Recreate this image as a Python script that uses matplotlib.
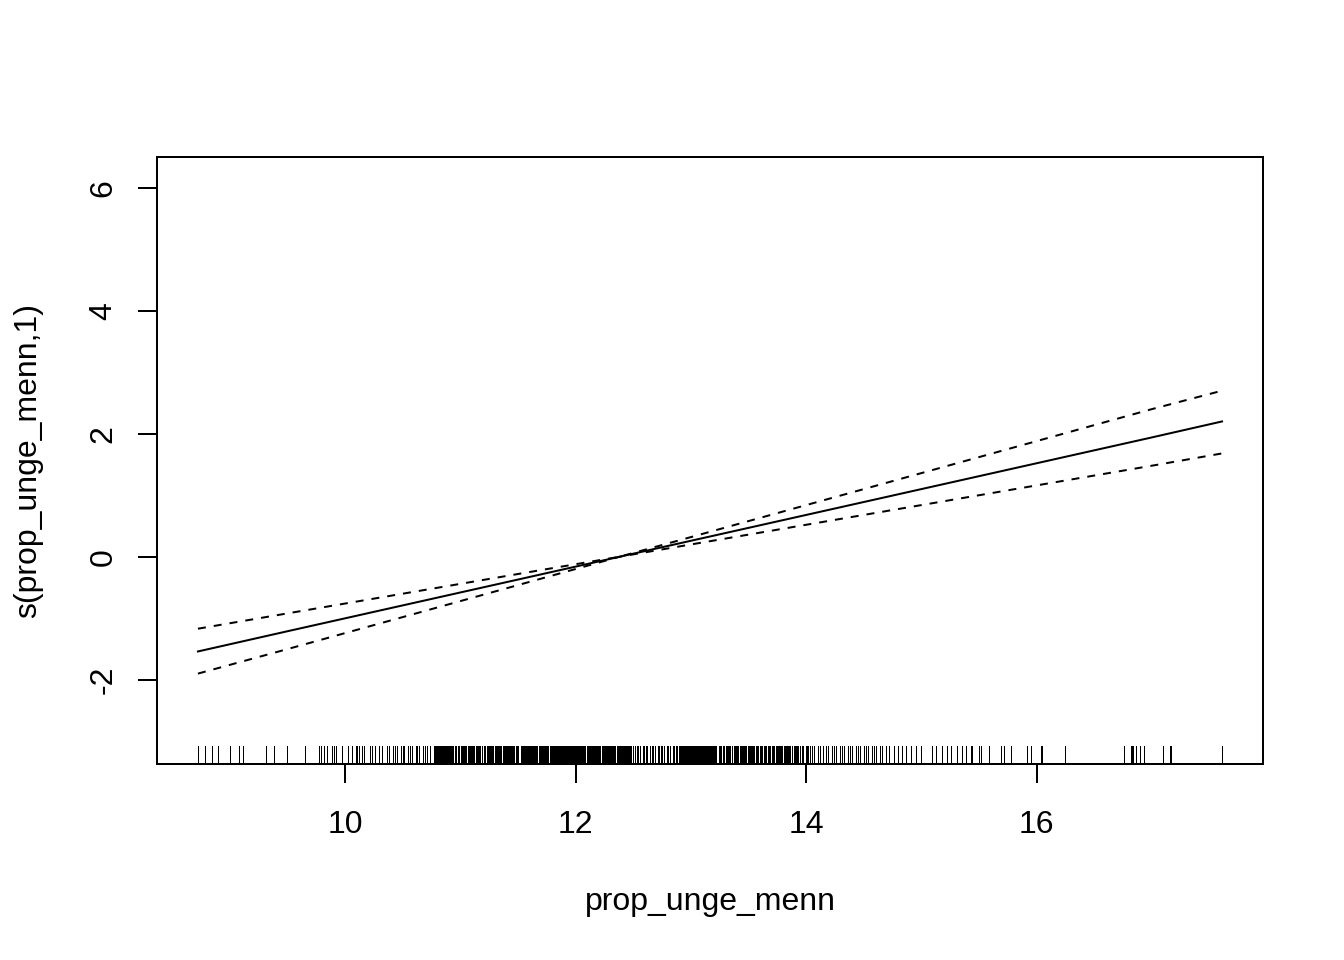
import matplotlib
matplotlib.use("Agg")
import matplotlib.pyplot as plt

plt.rcParams['font.family'] = ['Liberation Sans', 'DejaVu Sans']
plt.rcParams['axes.unicode_minus'] = False

# smooth term s(prop_unge_menn,1)
x_grid = [8.72, 9.5, 10.5, 11.5, 12.38, 13.0, 14.0, 15.0, 16.0, 17.0, 17.61]
fit = [-1.54, -1.21, -0.79, -0.37, 0.0, 0.26, 0.68, 1.10, 1.52, 1.94, 2.20]
upper = [-1.17, -0.92, -0.60, -0.28, 0.0, 0.32, 0.84, 1.36, 1.88, 2.40, 2.70]
lower = [-1.90, -1.50, -0.98, -0.46, 0.0, 0.20, 0.52, 0.84, 1.16, 1.48, 1.68]

# observed values of prop_unge_menn (rug)
rug_text = """
8.72 8.78 8.84 8.89 9.00 9.08 9.11 9.31 9.38 9.49 9.65 9.77 9.79 9.81 9.84
9.88 9.90 9.92 9.97 10.02 10.06 10.09 10.10 10.12 10.14 10.16 10.21 10.23
10.26 10.29 10.32
10.36 10.38 10.41 10.43 10.45 10.48 10.50 10.51 10.54 10.56 10.58 10.61 10.62
10.64 10.67 10.69 10.71 10.73
10.77 10.78 10.79 10.80 10.81 10.82 10.83 10.84 10.85 10.86 10.87 10.88 10.89
10.90 10.91 10.92 10.93
10.775 10.785 10.795 10.805 10.815 10.825 10.835 10.845 10.855 10.865 10.875
10.885 10.895 10.905 10.915 10.925
10.95 10.96 10.98 10.99 11.00 11.02 11.03 11.05 11.06 11.07 11.09 11.10 11.12
11.13 11.14 11.16 11.17 11.19 11.20 11.21 11.23 11.24 11.26 11.27 11.28 11.30
11.31 11.33 11.34 11.35 11.37 11.38 11.40
10.955 10.975 10.985 11.005 11.015 11.035 11.045 11.065 11.085 11.105 11.115
11.135 11.155 11.165 11.185 11.215 11.225 11.245 11.255 11.275 11.295 11.315
11.325 11.345 11.365 11.385 11.395
11.41 11.42 11.43 11.44 11.45 11.46 11.48 11.49 11.50 11.52 11.53 11.54 11.55
11.56 11.57 11.58 11.59 11.60 11.61 11.62 11.63 11.64 11.65 11.66 11.68 11.69
11.70 11.71 11.72 11.73 11.74 11.75 11.76 11.78 11.79 11.80 11.81 11.82 11.83
11.84 11.85 11.86 11.87 11.88 11.89 11.90 11.91 11.92 11.93 11.94 11.95 11.96
11.97 11.98 11.99 12.00 12.01 12.02 12.03 12.04 12.05 12.06 12.07 12.08 12.10
12.11 12.12 12.13 12.14 12.15 12.16 12.17 12.18 12.19 12.20 12.21 12.23 12.24
12.25 12.26 12.27 12.28 12.29 12.30 12.31 12.32 12.33 12.34 12.36 12.37 12.38
12.39 12.40 12.41 12.42 12.43 12.44 12.45 12.46 12.47 12.48
11.405 11.415 11.425 11.435 11.445 11.455 11.485 11.495 11.525 11.535 11.545
11.555 11.565 11.575 11.585 11.595 11.605 11.615 11.625 11.635 11.645 11.655
11.685 11.695 11.705 11.715 11.725 11.735 11.745 11.755 11.785 11.795 11.805
11.815 11.825 11.835 11.845 11.855 11.865 11.875 11.885 11.895 11.905 11.915
11.925 11.935 11.945 11.955 11.965 11.975 11.985 11.995 12.005 12.015 12.025
12.035 12.045 12.055 12.065 12.075 12.105 12.115 12.125 12.135 12.145 12.155
12.165 12.175 12.185 12.195 12.205 12.235 12.245 12.255 12.265 12.275 12.285
12.295 12.305 12.315 12.325 12.335 12.365 12.375 12.385 12.395 12.405 12.415
12.425 12.435 12.445 12.455 12.465 12.475
12.50 12.51 12.53 12.54 12.56 12.58 12.59 12.61 12.62 12.64 12.66 12.67 12.69
12.71 12.72 12.74 12.75 12.77 12.79 12.80 12.82 12.84 12.85 12.87 12.88
12.90 12.91 12.92 12.93 12.94 12.95 12.96 12.97 12.98 12.99 13.00 13.01 13.02
13.03 13.04 13.05 13.06 13.07 13.08 13.09 13.10 13.11 13.12 13.13 13.14 13.15
13.16 13.17 13.18 13.19 13.20 13.21 13.22
12.905 12.915 12.925 12.935 12.945 12.955 12.965 12.975 12.985 12.995 13.005
13.015 13.025 13.035 13.045 13.055 13.065 13.075 13.085 13.095 13.105 13.115
13.125 13.135 13.145 13.155 13.165 13.175 13.185 13.195 13.205 13.215
13.24 13.25 13.26 13.28 13.29 13.30 13.32 13.33 13.34 13.36 13.37 13.39 13.40
13.41 13.43 13.44 13.46 13.47 13.48 13.50 13.51 13.53 13.54 13.55 13.57 13.58
13.60 13.61 13.62 13.64 13.65 13.67 13.68 13.69 13.71 13.72 13.74 13.75 13.76
13.78 13.79 13.81 13.82 13.83 13.85 13.86 13.88 13.89 13.90 13.92 13.93 13.95
13.96 13.97
13.245 13.255 13.275 13.285 13.305 13.315 13.335 13.355 13.375 13.385 13.405
13.425 13.435 13.455 13.475 13.495 13.505 13.525 13.545 13.565 13.575 13.595
13.615 13.635 13.645 13.665 13.685 13.705 13.715 13.735 13.755 13.775 13.785
13.805 13.825 13.845 13.855 13.875 13.895 13.915 13.925 13.945 13.965
14.00 14.01 14.02 14.03
14.05 14.07 14.10 14.12 14.15 14.17 14.19 14.22 14.24 14.26 14.29 14.31 14.33
14.36 14.38 14.40 14.43 14.45 14.47 14.50 14.52 14.54 14.57 14.59 14.61 14.64
14.66 14.69 14.72 14.76 14.80 14.83 14.87 14.91
14.95 15.00 15.09 15.13 15.18 15.22 15.26 15.31 15.35 15.39 15.43 15.44 15.50
15.52 15.59 15.69 15.72 15.78 15.92 15.95 16.04 16.05 16.25 16.76 16.82 16.83
16.84 16.86 16.90 16.93 17.10 17.16 17.17 17.61
"""
rug_x = [float(v) for v in rug_text.split()]

x_ticks = [10, 12, 14, 16]
y_ticks = [-2, 0, 2, 4, 6]

W, H = 1344, 960
fig = plt.figure(figsize=(7, 5), dpi=192)
ax = fig.add_axes([157 / W, 1 - 764 / H, (1263 - 157) / W, (764 - 157) / H])

ax.plot(x_grid, fit, color='black', lw=0.75)
ax.plot(x_grid, upper, color='black', lw=0.75, dashes=(4, 4))
ax.plot(x_grid, lower, color='black', lw=0.75, dashes=(4, 4))
ax.vlines(rug_x, 0, 0.03, transform=ax.get_xaxis_transform(),
          color='black', lw=0.375, antialiased=False)

lo, hi = min(rug_x), max(rug_x)
ext = 0.04 * (hi - lo)
ax.set_xlim(lo - ext, hi + ext)
ax.set_ylim(-3.37, 6.50)

ax.set_xticks(x_ticks)
ax.set_xticklabels([str(t) for t in x_ticks])
ax.set_yticks(y_ticks)
ax.set_yticklabels([str(t) for t in y_ticks], rotation=90, va='center')

for side in ax.spines.values():
    side.set_linewidth(0.75)
ax.tick_params(axis='both', direction='out', length=7.2, width=0.75,
               labelsize=12, colors='black')
ax.tick_params(axis='x', pad=10.2)
ax.tick_params(axis='y', pad=7.2)

fig.text(710 / W, 1 - 910 / H, 'prop_unge_menn', fontsize=12,
         ha='center', va='baseline')
fig.text(36.5 / W, 1 - 460 / H, 's(prop_unge_menn,1)', fontsize=12,
         ha='center', va='baseline', rotation=90, rotation_mode='anchor')

fig.savefig('out.png', dpi=192)
